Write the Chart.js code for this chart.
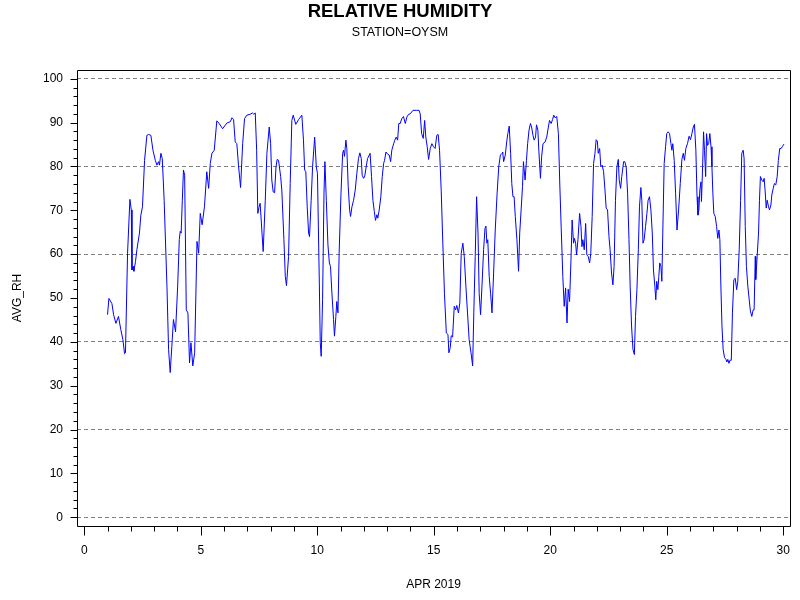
<!DOCTYPE html>
<html><head><meta charset="utf-8">
<script src="https://cdn.jsdelivr.net/npm/chart.js@4"></script>
<style>html,body{margin:0;padding:0;background:#fff}#wrap{width:800px;height:600px}</style>
</head><body><div id="wrap"><canvas id="c" width="800" height="600"></canvas></div>
<script>
const titleText = 'RELATIVE HUMIDITY';
const subtitleText = 'STATION=OYSM';
const xAxisTitle = 'APR 2019';
const yAxisTitle = 'AVG_RH';
const xMajorTicks = [0, 5, 10, 15, 20, 25, 30];
const yMajorTicks = [0, 10, 20, 30, 40, 50, 60, 70, 80, 90, 100];

const days = [
1.00,1.06,1.19,1.26,1.36,1.47,1.57,1.66,1.73,1.77,1.86,1.96,2.02,2.05,2.10,2.13,2.20,2.26,2.37,2.43,2.50,2.59,2.69,2.76,2.86,2.95,3.05,3.12,3.19,3.23,3.29,3.35,3.43,3.55,3.62,3.69,3.76,3.83,3.92,4.01,4.08,4.12,4.16,4.21,4.26,4.31,4.38,4.45,4.52,4.58,4.66,4.74,4.84,4.91,4.98,5.06,5.16,5.26,5.34,5.41,5.48,5.58,
5.69,5.79,5.94,6.12,6.27,6.34,6.41,6.48,6.55,6.62,6.71,6.80,6.88,6.98,7.12,7.22,7.28,7.34,7.40,7.45,7.50,7.55,7.63,7.68,7.77,7.84,7.94,8.00,8.05,8.11,8.17,8.23,8.28,8.34,8.43,8.48,8.57,8.63,8.68,8.77,8.84,8.91,8.97,9.08,9.20,9.34,9.41,9.46,9.51,9.57,9.63,9.67,9.74,9.80,9.89,9.96,10.01,10.09,10.13,10.17,10.23,10.29,10.33,10.39,10.46,10.52,10.57,
10.63,10.70,10.74,10.80,10.84,10.89,10.94,11.02,11.09,11.13,11.17,11.23,11.27,11.33,11.39,11.43,11.49,11.56,11.63,11.70,11.77,11.83,11.89,11.93,11.99,12.04,12.10,12.16,12.27,12.33,12.39,12.45,12.50,12.56,12.60,12.66,12.73,12.79,12.85,12.89,12.95,13.02,13.09,13.15,13.20,13.28,13.33,13.39,13.45,13.50,13.56,13.63,13.70,13.78,13.85,13.92,13.99,14.11,14.25,14.37,14.42,14.48,14.55,14.61,14.66,14.72,14.78,14.85,14.92,14.99,15.06,15.13,15.19,15.25,15.32,15.39,15.46,
15.54,15.61,15.65,15.71,15.75,15.81,15.88,15.94,15.99,16.06,16.12,16.18,16.25,16.31,16.38,16.45,16.52,16.60,16.67,16.72,16.78,16.84,16.90,16.95,17.01,17.07,17.14,17.20,17.24,17.28,17.32,17.38,17.44,17.50,17.57,17.64,17.72,17.79,17.86,17.93,17.96,18.00,18.07,18.14,18.18,18.24,18.30,18.35,18.40,18.45,18.50,18.57,18.64,18.69,18.75,18.81,18.85,18.92,18.98,19.03,19.09,19.15,19.20,19.26,19.31,19.37,19.41,19.47,19.51,19.58,19.63,19.69,19.78,19.85,19.92,19.97,20.04,20.10,20.15,20.21,20.28,20.35,20.41,20.47,
20.54,20.60,20.66,20.72,20.77,20.83,20.89,20.94,21.00,21.04,21.09,21.13,21.19,21.26,21.32,21.36,21.40,21.46,21.52,21.57,21.63,21.69,21.74,21.80,21.86,21.92,21.97,22.02,22.06,22.12,22.17,22.23,22.29,22.35,22.40,22.46,22.52,22.57,22.63,22.69,22.74,22.80,22.86,22.92,22.96,23.02,23.07,23.15,23.20,23.26,23.32,23.38,23.43,23.49,23.55,23.61,23.66,23.72,23.78,23.83,23.89,23.93,23.98,24.03,24.09,24.15,24.20,24.26,24.32,24.38,24.43,24.49,24.53,24.57,24.62,24.66,24.70,24.75,24.79,24.83,24.89,24.95,25.00,25.06,25.12,25.18,25.22,25.26,25.32,25.38,
25.44,25.51,25.58,25.65,25.71,25.76,25.82,25.89,25.96,26.02,26.08,26.14,26.19,26.25,26.30,26.34,26.38,26.42,26.47,26.49,26.54,26.58,26.62,26.67,26.71,26.75,26.80,26.85,26.90,26.94,26.98,27.02,27.08,27.14,27.19,27.24,27.28,27.32,27.37,27.42,27.48,27.54,27.58,27.62,27.67,27.71,27.77,27.82,27.88,27.94,28.00,28.05,28.11,28.17,28.22,28.28,28.32,28.37,28.42,28.48,28.54,28.59,28.65,28.71,28.75,28.80,28.82,28.88,28.94,28.98,29.02,29.08,29.14,29.18,29.22,29.27,29.31,29.37,29.41,29.47,29.51,29.57,29.62,29.68,29.74,29.79,29.85,29.91,29.97,30.03
];

const avgRH = [
46.2,49.9,48.7,46.2,44.2,45.8,42.8,40.5,37.3,37.5,60.2,72.5,70.1,56.4,57.2,56.1,58.3,61.0,64.8,68.9,70.8,81.4,87.1,87.3,87.1,83.7,81.4,80.3,81.1,80.3,83.0,81.8,72.3,52.7,38.3,33.0,39.0,45.1,42.3,52.7,63.3,65.2,64.8,72.3,79.2,78.0,47.3,46.6,35.2,39.8,34.5,37.5,62.9,60.2,69.3,66.7,70.8,78.8,75.0,80.7,83.0,83.7,
90.4,89.8,88.6,89.9,90.2,91.1,90.7,85.6,85.2,80.3,75.2,85.2,90.9,91.7,91.9,92.2,91.9,92.2,83.7,69.3,70.7,71.6,64.8,60.6,72.3,83.0,89.0,85.2,76.9,74.2,74.0,79.9,81.6,81.4,77.7,74.6,63.3,54.9,52.8,59.5,76.1,90.5,91.7,89.6,90.7,91.7,86.0,79.2,78.8,70.8,64.8,64.0,72.3,79.9,86.7,79.9,78.4,53.4,39.8,36.7,49.6,73.9,81.1,72.3,62.1,58.0,57.2,
51.1,45.1,41.3,45.8,49.2,46.6,60.2,73.9,83.0,83.7,82.3,86.0,84.1,75.4,70.1,68.6,70.8,72.3,74.6,78.4,81.8,83.1,81.8,78.0,77.3,77.8,79.9,81.8,83.0,77.7,72.3,69.7,67.7,69.0,68.2,70.1,73.1,77.7,80.7,81.4,83.3,82.8,82.6,81.1,83.7,85.2,86.0,86.7,86.0,89.8,89.8,90.9,91.4,89.8,91.3,91.9,92.0,92.8,92.8,92.8,92.0,87.5,86.4,90.5,86.7,84.5,81.6,84.1,85.2,84.5,84.1,87.1,87.3,83.7,74.6,62.5,51.1,
42.0,41.7,37.5,38.7,41.4,41.1,48.1,47.3,48.3,46.6,48.9,60.2,62.5,59.5,52.7,46.6,40.5,37.5,34.5,46.6,59.5,73.1,64.8,51.1,46.2,52.7,61.0,65.9,66.4,62.5,63.3,54.9,51.1,46.6,55.7,65.5,73.9,79.9,82.6,83.0,83.3,81.1,82.6,86.0,87.5,89.2,83.0,76.1,73.1,73.1,68.6,63.3,56.1,64.8,70.1,75.4,81.1,76.9,81.4,85.2,88.3,89.8,89.0,87.1,86.0,86.7,89.5,88.3,83.7,77.3,82.2,85.2,85.6,86.7,89.0,90.5,89.8,90.7,91.7,91.1,91.4,87.5,76.0,66.0,
54.9,48.1,52.3,44.3,52.0,49.2,58.7,67.8,62.5,63.6,62.5,59.8,63.3,69.3,66.3,61.7,63.3,61.0,67.0,59.8,59.5,58.0,60.2,68.6,80.7,83.0,86.1,85.8,83.0,84.1,79.9,80.3,78.8,74.6,70.5,70.1,64.0,61.0,55.7,53.0,57.2,72.3,79.9,81.6,76.9,75.0,77.7,81.1,81.1,79.9,73.9,63.3,52.7,43.6,38.3,37.1,45.8,51.9,61.0,70.8,75.2,72.3,62.5,63.3,66.3,69.3,72.3,73.1,70.1,64.8,56.4,52.7,49.6,53.8,51.9,54.9,58.0,57.2,53.8,64.8,80.7,84.5,87.5,87.9,87.5,85.2,83.7,85.2,81.4,73.9,
65.5,70.1,76.1,81.6,83.0,81.4,84.1,85.2,86.9,86.1,87.5,89.0,89.6,83.7,73.1,68.9,70.1,74.6,76.5,72.0,79.9,87.9,83.7,77.7,87.5,84.8,85.2,87.5,84.5,79.9,73.9,69.3,68.6,66.3,63.6,65.5,63.3,53.4,43.6,38.3,36.4,36.0,35.4,36.0,35.1,35.8,35.8,46.6,54.2,54.5,51.9,53.8,61.0,72.3,83.0,83.7,81.8,66.3,57.2,52.7,49.6,47.0,45.8,47.3,47.3,59.5,54.2,59.5,64.8,72.3,77.7,76.9,76.5,77.3,74.6,70.5,72.3,70.8,70.1,71.2,73.5,75.0,76.1,75.8,77.7,81.4,84.1,84.1,84.6,85.1
];

const FONT = '"Liberation Sans", Arial, Helvetica, sans-serif';
Chart.defaults.font.family = FONT;
Chart.defaults.color = '#000';

const points = days.map((d, i) => ({ x: d, y: avgRH[i] }));

const frameTicks = {
  id: 'frameTicks',
  afterDraw(chart) {
    const { ctx, chartArea: a, scales: { x, y } } = chart;
    ctx.save();
    ctx.strokeStyle = '#000';
    ctx.lineWidth = 1;
    ctx.beginPath();
    ctx.rect(Math.round(a.left) + 0.5, Math.round(a.top) + 0.5,
             Math.round(a.right - a.left), Math.round(a.bottom - a.top));
    ctx.stroke();
    ctx.beginPath();
    const b = Math.round(a.bottom) + 0.5;
    for (let d = xMajorTicks[0]; d <= xMajorTicks[xMajorTicks.length - 1]; d++) {
      const px = Math.round(x.getPixelForValue(d)) + 0.5;
      const len = xMajorTicks.includes(d) ? 9 : 5;
      ctx.moveTo(px, b); ctx.lineTo(px, b + len);
    }
    const l = Math.round(a.left) + 0.5;
    for (let v = yMajorTicks[0]; v <= yMajorTicks[yMajorTicks.length - 1]; v += 2) {
      const py = Math.round(y.getPixelForValue(v)) + 0.5;
      const len = yMajorTicks.includes(v) ? 7 : 4;
      ctx.moveTo(l - len, py); ctx.lineTo(l, py);
    }
    ctx.stroke();
    ctx.restore();
  }
};

new Chart(document.getElementById('c'), {
  type: 'line',
  data: {
    datasets: [{
      data: points,
      borderColor: '#0000ff',
      borderWidth: 1,
      pointRadius: 0,
      tension: 0,
      fill: false
    }]
  },
  options: {
    responsive: false,
    animation: false,
    devicePixelRatio: 1,
    layout: { padding: 0 },
    plugins: {
      legend: { display: false },
      tooltip: { enabled: false },
      title: {
        display: true, text: titleText, color: '#000',
        font: { family: FONT, size: 18.5, weight: 'bold' },
        padding: { top: 1, bottom: 2 }
      },
      subtitle: {
        display: true, text: subtitleText, color: '#000',
        font: { family: FONT, size: 12.5, weight: 'normal' },
        padding: { top: 0, bottom: 29.8 }
      }
    },
    scales: {
      x: {
        type: 'linear', min: -0.31, max: 30.29,
        afterFit(s) { s.height = 74; s.paddingLeft = 0; s.paddingRight = 10; },
        afterBuildTicks(s) { s.ticks = xMajorTicks.map(v => ({ value: v })); },
        ticks: { autoSkip: false, maxRotation: 0, padding: 17.8, color: '#000',
                 font: { family: FONT, size: 12 }, callback: v => String(v) },
        grid: { display: false, drawTicks: false },
        border: { display: false },
        title: { display: true, text: xAxisTitle, color: '#000',
                 font: { family: FONT, size: 12 }, padding: { top: 0, bottom: 8 } }
      },
      y: {
        type: 'linear', min: -2, max: 102,
        afterFit(s) { s.width = 77; s.paddingTop = 0; s.paddingBottom = 0; },
        afterBuildTicks(s) { s.ticks = yMajorTicks.map(v => ({ value: v })); },
        ticks: { padding: 14, color: '#000', font: { family: FONT, size: 12 }, callback: v => String(v) },
        grid: {
          drawTicks: false, lineWidth: 1,
          color: c => (c.tick && c.tick.value % 20 === 0) ? '#808080' : 'rgba(0,0,0,0)'
        },
        border: { display: false, dash: [4, 3] },
        title: { display: true, text: yAxisTitle, color: '#000',
                 font: { family: FONT, size: 12 }, padding: { top: 10.8, bottom: 0 } }
      }
    }
  },
  plugins: [frameTicks]
});
</script>
</body></html>
